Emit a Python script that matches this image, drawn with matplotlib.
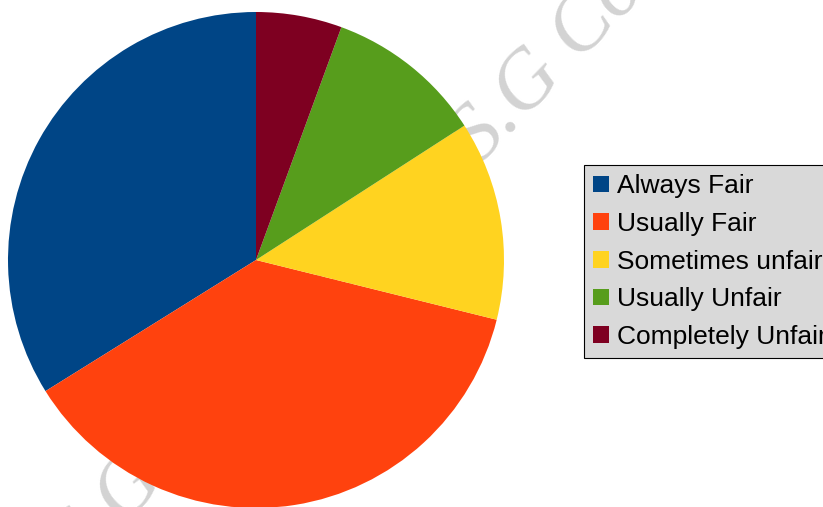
import matplotlib
matplotlib.use("Agg")
import matplotlib.pyplot as plt
from matplotlib.patches import Patch

# data (share of answers, %)
labels = ["Always Fair", "Usually Fair", "Sometimes unfair", "Usually Unfair", "Completely Unfair"]
values = [33.9, 37.3, 13.0, 10.3, 5.6]
colors = ["#004586", "#ff420e", "#ffd320", "#579d1c", "#7e0021"]

W, H = 823, 507
fig = plt.figure(figsize=(W / 100, H / 100), dpi=100)

# watermark behind the pie
wm = dict(fontsize=60, family="Liberation Serif", style="italic", color="#d3d3d3",
          rotation=46, rotation_mode="anchor", ha="left", va="baseline", zorder=-1)
fig.text(479 / W, 1 - 165 / H, "S.G College", **wm)
fig.text(80 / W, 1 - 570 / H, "S.G College", **wm)

# pie axes: centre (256, 260), radius 248 px
cx, cy, r = 256, 260, 248
ax = fig.add_axes([(cx - r) / W, (H - cy - r) / H, 2 * r / W, 2 * r / H])
ax.pie(values, colors=colors, startangle=90, counterclock=True, radius=1,
       wedgeprops=dict(linewidth=0))
ax.set_xlim(-1, 1)
ax.set_ylim(-1, 1)
ax.set_aspect("auto")
ax.axis("off")

# legend
handles = [Patch(facecolor=c, edgecolor="none") for c in colors]
leg = fig.legend(handles, labels, loc="upper left", bbox_to_anchor=(584 / W, 1 - 165 / H),
                 bbox_transform=fig.transFigure, borderaxespad=0,
                 prop=dict(family="Liberation Sans", size=19),
                 handlelength=0.6, handleheight=0.6, handletextpad=0.3,
                 labelspacing=0.52, borderpad=0.35, fancybox=False,
                 framealpha=1, facecolor="#d9d9d9", edgecolor="black")
leg.get_frame().set_linewidth(0.8)

plt.savefig("out.png", dpi=100)
plt.close()
